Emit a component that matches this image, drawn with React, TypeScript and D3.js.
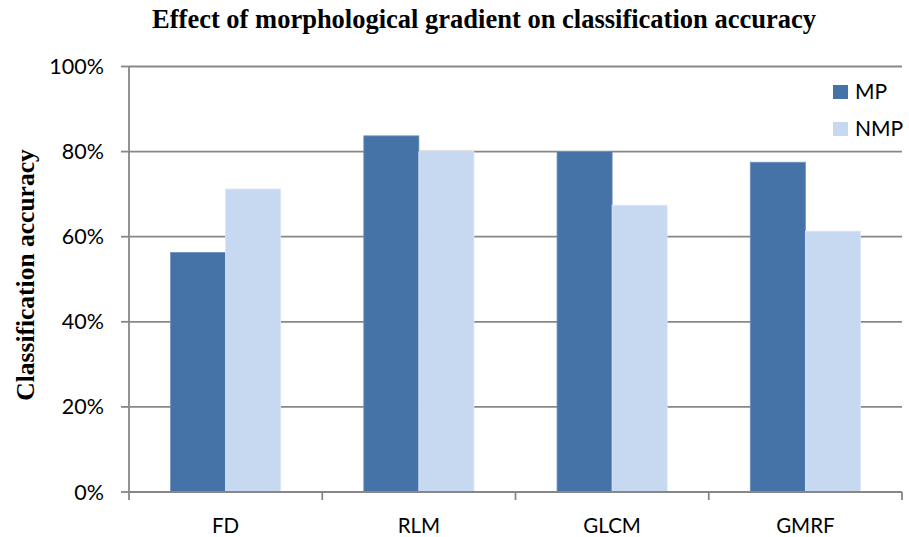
import { scaleBand, scaleLinear } from "d3";

const categories = ["FD", "RLM", "GLCM", "GMRF"];
const seriesNames = ["MP", "NMP"];
const mpValues = [56.3, 83.7, 80.0, 77.5];
const nmpValues = [71.2, 80.0, 67.4, 61.3];
const yTicks = [0, 20, 40, 60, 80, 100];
const colors = ["#4573a7", "#c6d9f1"];

const W = 909,
  H = 537;
const left = 129,
  right = 902,
  top = 66.5,
  bottom = 492;

export default function App() {
  const x = scaleBand<string>()
    .domain(categories)
    .range([left, right])
    .paddingInner(0.43)
    .paddingOuter(0.215);
  const inner = scaleBand<string>().domain(seriesNames).range([0, x.bandwidth()]);
  const y = scaleLinear().domain([0, 100]).range([bottom, top]);
  const step = (right - left) / categories.length;
  const series = [mpValues, nmpValues];
  const sans = "Lato, 'Open Sans', sans-serif";
  const serif = "'Liberation Serif', 'Times New Roman', serif";

  return (
    <svg width={W} height={H} style={{ display: "block", position: "absolute", left: 0, top: 0 }}>
      <rect width={W} height={H} fill="#fff" />
      <text x={484} y={28} textAnchor="middle" fontFamily={serif} fontWeight="bold" fontSize={26.5}>
        Effect of morphological gradient on classification accuracy
      </text>
      <text
        transform={`translate(34,275) rotate(-90)`}
        textAnchor="middle"
        fontFamily={serif}
        fontWeight="bold"
        fontSize={25.5}
      >
        Classification accuracy
      </text>
      {yTicks.map((t) => (
        <g key={t}>
          {t > 0 && <line x1={left} x2={right} y1={y(t)} y2={y(t)} stroke="#878787" strokeWidth={1.8} />}
          <line x1={121} x2={left} y1={y(t)} y2={y(t)} stroke="#878787" strokeWidth={1.8} />
          <text x={104} y={y(t) + 7.5} textAnchor="end" fontFamily={sans} fontSize={21.5}>
            {t}%
          </text>
        </g>
      ))}
      {categories.map((c, i) =>
        series.map((vals, s) => (
          <rect
            key={c + s}
            x={(x(c) ?? 0) + (inner(seriesNames[s]) ?? 0)}
            y={y(vals[i])}
            width={inner.bandwidth()}
            height={bottom - y(vals[i])}
            fill={colors[s]}
            stroke={s === 0 ? "#6f92bf" : "#dbe7f6"}
            strokeWidth={0.8}
          />
        ))
      )}
      <line x1={left} x2={left} y1={top} y2={bottom} stroke="#878787" strokeWidth={1.8} />
      <line x1={left} x2={right} y1={bottom} y2={bottom} stroke="#878787" strokeWidth={1.8} />
      {categories.map((c, i) => (
        <line key={c} x1={left + step * (i + 1)} x2={left + step * (i + 1)} y1={bottom} y2={bottom + 8} stroke="#878787" strokeWidth={1.8} />
      ))}
      <line x1={left} x2={left} y1={bottom} y2={bottom + 8} stroke="#878787" strokeWidth={1.8} />
      {categories.map((c) => (
        <text key={c} x={(x(c) ?? 0) + x.bandwidth() / 2} y={533} textAnchor="middle" fontFamily={sans} fontSize={20.5}>
          {c}
        </text>
      ))}
      {seriesNames.map((n, s) => (
        <g key={n} transform={`translate(833,${85 + s * 37})`}>
          <rect width={15} height={14} fill={colors[s]} />
          <text x={22} y={14} fontFamily={sans} fontSize={21}>
            {n}
          </text>
        </g>
      ))}
    </svg>
  );
}
